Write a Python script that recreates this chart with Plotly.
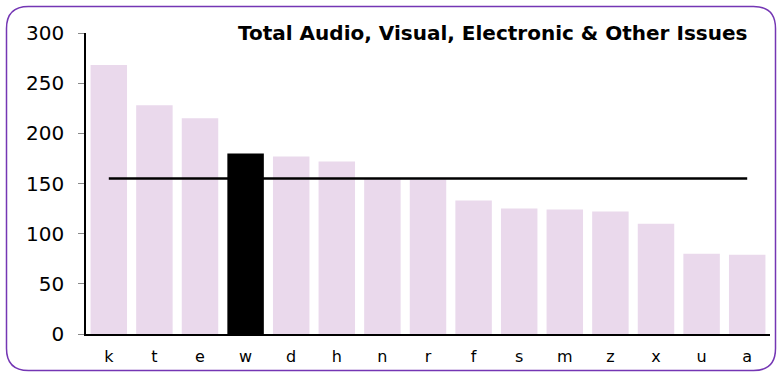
import plotly.graph_objects as go

categories = ["k", "t", "e", "w", "d", "h", "n", "r", "f", "s", "m", "z", "x", "u", "a"]
values = [268, 228, 215, 180, 177, 172, 155, 154, 133, 125, 124, 122, 110, 80, 79]
highlight = "w"
average = 155
title_text = "Total Audio, Visual, Electronic & Other Issues"
y_ticks = [0, 50, 100, 150, 200, 250, 300]

bar_colors = ["#000000" if c == highlight else "#EAD9EC" for c in categories]

fig = go.Figure()
fig.add_trace(go.Bar(x=categories, y=values, marker=dict(color=bar_colors, line=dict(width=0)),
                     width=0.8, showlegend=False))
fig.add_trace(go.Scatter(x=categories, y=[average] * len(categories), mode="lines",
                         line=dict(color="#000000", width=2.5), showlegend=False))

L, R, T, B = 86, 10, 33, 39
W, H = 780, 373
pw, ph = W - L - R, H - T - B

def px(x):
    return (x - L) / pw

def py(y):
    return (H - B - y) / ph

x0, x1, y0, y1, r = 6.5, 775.5, 6.5, 370.5, 22
path = (f"M {px(x0+r)},{py(y0)} L {px(x1-r)},{py(y0)} Q {px(x1)},{py(y0)} {px(x1)},{py(y0+r)} "
        f"L {px(x1)},{py(y1-r)} Q {px(x1)},{py(y1)} {px(x1-r)},{py(y1)} "
        f"L {px(x0+r)},{py(y1)} Q {px(x0)},{py(y1)} {px(x0)},{py(y1-r)} "
        f"L {px(x0)},{py(y0+r)} Q {px(x0)},{py(y0)} {px(x0+r)},{py(y0)} Z")

fig.update_layout(
    width=W, height=H,
    margin=dict(l=L, r=R, t=T, b=B, autoexpand=False),
    paper_bgcolor="white", plot_bgcolor="white",
    font=dict(family="DejaVu Sans", color="#000000"),
    bargap=0.2,
    shapes=[dict(type="path", path=path, xref="paper", yref="paper",
                 line=dict(color="#7436B4", width=1.5), layer="above")],
    annotations=[dict(text=f"<b>{title_text}</b>", xref="paper", yref="paper",
                      x=px(749), y=py(33), xanchor="right", yanchor="middle",
                      showarrow=False, font=dict(size=20, family="DejaVu Sans"))],
)
fig.update_xaxes(showline=True, linecolor="#000000", linewidth=1.5, ticks="",
                 tickfont=dict(size=16), showgrid=False, range=[-0.5, 14.5],
                 ticklabelstandoff=7, automargin=False)
fig.update_yaxes(range=[0, 300], tickvals=y_ticks, showline=True, linecolor="#000000",
                 linewidth=1.5, ticks="outside", ticklen=6, tickcolor="#888888",
                 tickfont=dict(size=20), showgrid=False, zeroline=False,
                 ticklabelstandoff=10, automargin=False)

fig.write_html("out.html", config={"displayModeBar": False},
               post_script="document.body.style.margin='0';document.body.style.overflow='hidden';")
